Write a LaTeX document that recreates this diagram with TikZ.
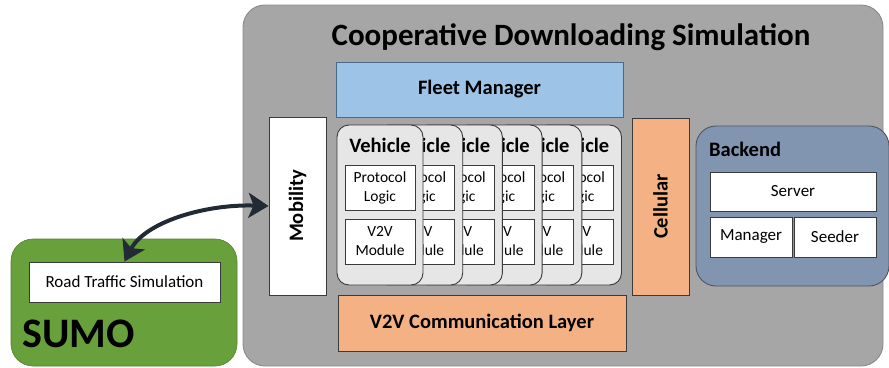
\documentclass[tikz,border=0pt]{standalone}
\usepackage{fontspec}
\setmainfont{Carlito}
\usetikzlibrary{arrows.meta}
\definecolor{simfill}{HTML}{A6A6A6}
\definecolor{simedge}{HTML}{8A8A8A}
\definecolor{edgec}{HTML}{3A3A3A}
\definecolor{fleetc}{HTML}{9DC3E6}
\definecolor{fleetedge}{HTML}{4A6A8A}
\definecolor{orangec}{HTML}{F4B183}
\definecolor{cardc}{HTML}{E7E6E6}
\definecolor{backc}{HTML}{8195B0}
\definecolor{greenc}{HTML}{68A03C}
\definecolor{arrowc}{HTML}{222A35}
\begin{document}
\begin{tikzpicture}[x=1pt,y=-1pt,
  box/.style={draw=edgec, line width=0.9pt, inner sep=0pt},
  whitebox/.style={box, fill=white, align=center, font=\fontsize{17}{20}\selectfont},
  cardtext/.style={font=\fontsize{15.5}{19}\selectfont},
  boldlbl/.style={font=\fontsize{20.5}{24}\selectfont\bfseries},
  cardbox/.style={draw=edgec, line width=0.9pt, fill=cardc, rounded corners=12pt, inner sep=0pt, minimum width=86pt, minimum height=160pt}
]
\useasboundingbox (0,0) rectangle (889,367);

% main simulation container
\node[draw=simedge, line width=0.9pt, fill=simfill, rounded corners=22pt, inner sep=0pt,
      minimum width=640pt, minimum height=361pt] (sim) at (563,185.5) {};
\node[font=\fontsize{31}{35}\selectfont\bfseries] (title) at (571,37) {Cooperative Downloading Simulation};

% SUMO container
\node[draw=greenc!80!black, line width=0.6pt, fill=greenc, rounded corners=22pt, inner sep=0pt,
      minimum width=226pt, minimum height=127pt] (sumo) at (124,302.5) {};
\node[whitebox, minimum width=191pt, minimum height=40pt] (rts) at (124.5,282) {Road Traffic Simulation};
\node[font=\fontsize{42}{46}\selectfont\bfseries, anchor=base west, inner sep=0pt] (sumolbl) at (22,347) {SUMO};

% Fleet manager
\node[box, draw=fleetedge, fill=fleetc, minimum width=287pt, minimum height=55pt, boldlbl] (fleet) at (479.5,89.5) {Fleet Manager};

% Mobility
\node[box, fill=white, minimum width=57pt, minimum height=178pt] (mob) at (297.5,206) {};
\node[boldlbl, rotate=90] (moblbl) at (mob.center) {Mobility};

% Cellular
\node[box, fill=orangec, minimum width=57pt, minimum height=177pt] (cell) at (660.5,206.5) {};
\node[boldlbl, rotate=90] (celllbl) at (cell.center) {Cellular};

% V2V communication layer
\node[box, fill=orangec, minimum width=288pt, minimum height=56pt, boldlbl] (v2vl) at (482,323) {V2V Communication Layer};

% Vehicles
\foreach \i in {5,4,...,0}{
  \pgfmathsetmacro\cx{380+39.7*\i}
  \node[cardbox] (card\i) at (\cx,205) {};
  \node[boldlbl] (veh\i) at (\cx,145) {Vehicle};
  \node[whitebox, minimum width=70pt, minimum height=45pt, cardtext] (pl\i) at (\cx,187.5) {Protocol\\Logic};
  \node[whitebox, minimum width=70pt, minimum height=45pt, cardtext] (vm\i) at (\cx,241.5) {V2V\\Module};
}

% Backend
\node[draw=edgec!70!backc, line width=0.9pt, fill=backc, rounded corners=20pt, inner sep=0pt,
      minimum width=193pt, minimum height=160pt] (back) at (792.5,206) {};
\node[boldlbl, anchor=west, inner sep=0pt] (backlbl) at (709,149) {Backend};
\node[whitebox, minimum width=166pt, minimum height=39pt] (server) at (793,191.5) {Server};
\node[whitebox, minimum width=82pt, minimum height=40pt] (manager) at (751,237) {Manager};
\node[whitebox, minimum width=82pt, minimum height=40pt] (seeder) at (835,237) {Seeder};

% coupling arrow
\draw[arrowc, line width=4pt, {Stealth[length=20pt,width=25pt,inset=5pt]}-{Stealth[length=20pt,width=25pt,inset=5pt]}]
  (rts.north) .. controls (145,222) and (205,204) .. (mob.west);
\end{tikzpicture}
\end{document}
